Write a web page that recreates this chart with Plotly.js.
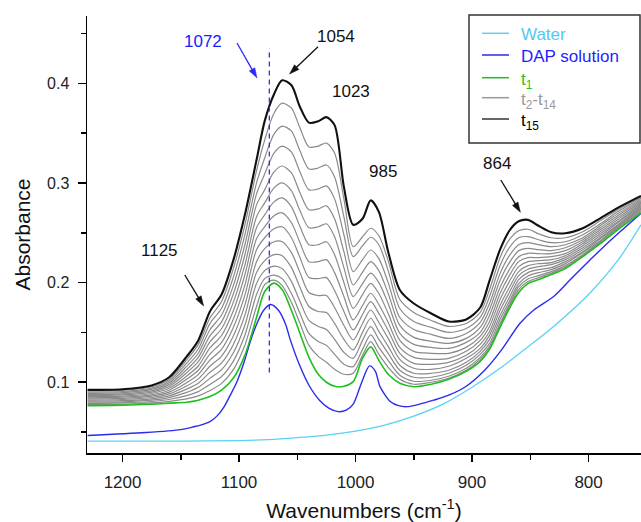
<!DOCTYPE html>
<html>
<head>
<meta charset="utf-8">
<script src="https://cdn.plot.ly/plotly-3.0.1.min.js"></script>
<style>
  html, body { margin: 0; padding: 0; background: #fff; }
  #chart { width: 641px; height: 522px; }
</style>
</head>
<body>
<div id="chart"></div>
<script>
// ---------- data ----------
const seriesNames = ["Water", "DAP solution", "t1", "t2-t14", "t15"];

const wnWater  = [1230, 1150, 1100, 1075, 1050, 1025, 1000, 975, 950, 925, 900, 876, 856, 830, 800, 775, 755];
const absWater = [0.041, 0.041, 0.0415, 0.0425, 0.0445, 0.047, 0.051, 0.057, 0.066, 0.078, 0.095, 0.114, 0.132, 0.156, 0.188, 0.222, 0.258];

const wnDAP  = [1230, 1180, 1150, 1140, 1133, 1125, 1119, 1113, 1108, 1102, 1096, 1090, 1085, 1079, 1073, 1066, 1060, 1056, 1048, 1040, 1031, 1023, 1015, 1008, 1002, 995, 988, 983, 979, 970, 963, 956, 945, 933, 920, 905, 889, 875, 859, 847, 830, 816, 802, 787, 773, 755];
const absDAP = [0.0465, 0.0495, 0.0525, 0.055, 0.057, 0.0605, 0.066, 0.075, 0.086, 0.100, 0.119, 0.142, 0.158, 0.172, 0.178, 0.172, 0.158, 0.1425, 0.117, 0.097, 0.082, 0.074, 0.0705, 0.072, 0.078, 0.099, 0.1164, 0.111, 0.0956, 0.0805, 0.0765, 0.0755, 0.078, 0.082, 0.087, 0.096, 0.1123, 0.132, 0.159, 0.1725, 0.186, 0.2026, 0.219, 0.236, 0.251, 0.2696];

const wnTime = [1230, 1200, 1175, 1160, 1145, 1135, 1125, 1115, 1105, 1095, 1085, 1078, 1070, 1063, 1055, 1048, 1040, 1032, 1025, 1018, 1010, 1002, 994, 987, 980, 972, 962, 950, 935, 920, 905, 893, 885, 876, 868, 860, 852, 843, 832, 820, 805, 790, 775, 755];

const t1  = [0.0765,0.077,0.078,0.079,0.080,0.082,0.0856,0.092,0.104,0.127, 0.165,0.191,0.1995,0.193,0.172, 0.150,0.125,0.108,0.100,0.096, 0.096,0.1006,0.124,0.1355,0.122, 0.108,0.099,0.0955,0.098,0.103, 0.111,0.121,0.133,0.155,0.174, 0.190,0.199,0.203,0.208,0.214, 0.226,0.239,0.253,0.270];
const t2  = [0.0776,0.0781,0.0793,0.0809,0.0833,0.0863,0.0917,0.0989,0.1124,0.1371, 0.176,0.198,0.2025,0.197,0.180, 0.160,0.137,0.126,0.120,0.113, 0.108,0.109,0.127,0.1407,0.128, 0.115,0.103,0.098,0.100,0.104, 0.112,0.123,0.134,0.157,0.176, 0.193,0.201,0.205,0.2095,0.2155, 0.227,0.240,0.254,0.2712];
const t3  = [0.0788,0.0793,0.0807,0.0827,0.0865,0.0906,0.0978,0.1057,0.1209,0.1471, 0.188,0.204,0.2075,0.204,0.189, 0.170,0.149,0.141,0.137,0.128, 0.118,0.1157,0.133,0.1475,0.135, 0.122,0.107,0.101,0.102,0.106, 0.114,0.125,0.136,0.159,0.178, 0.196,0.2036,0.207,0.211,0.217, 0.228,0.241,0.255,0.2724];
const t4  = [0.0799,0.0804,0.0820,0.0846,0.0898,0.0949,0.1039,0.1126,0.1293,0.1572, 0.199,0.212,0.2165,0.214,0.201, 0.182,0.162,0.156,0.153,0.143, 0.130,0.124,0.142,0.1558,0.143, 0.129,0.112,0.105,0.105,0.109, 0.117,0.128,0.139,0.163,0.181, 0.199,0.2067,0.210,0.213,0.219, 0.230,0.242,0.256,0.2736];
const t5  = [0.0810,0.0816,0.0834,0.0864,0.0931,0.0991,0.1100,0.1194,0.1377,0.1673, 0.210,0.222,0.228,0.227,0.215, 0.196,0.176,0.171,0.170,0.159, 0.143,0.1324,0.150,0.1642,0.151, 0.136,0.117,0.109,0.109,0.112, 0.120,0.131,0.143,0.167,0.185, 0.203,0.210,0.213,0.215,0.221, 0.231,0.244,0.257,0.2748];
const t6  = [0.0821,0.0827,0.0847,0.0883,0.0963,0.1034,0.1161,0.1263,0.1461,0.1774, 0.221,0.234,0.241,0.241,0.230, 0.211,0.190,0.187,0.187,0.175, 0.157,0.1424,0.159,0.1725,0.160, 0.144,0.123,0.114,0.113,0.116, 0.124,0.134,0.147,0.172,0.190, 0.207,0.2134,0.216,0.218,0.223, 0.233,0.245,0.258,0.2760];
const t7  = [0.0833,0.0839,0.0861,0.0901,0.0996,0.1077,0.1222,0.1331,0.1546,0.1874, 0.233,0.245,0.254,0.256,0.245, 0.226,0.205,0.204,0.205,0.192, 0.171,0.1525,0.168,0.1809,0.169, 0.152,0.129,0.119,0.118,0.120, 0.127,0.138,0.151,0.177,0.195, 0.211,0.217,0.219,0.220,0.225, 0.235,0.247,0.260,0.2772];
const t8  = [0.0844,0.0850,0.0874,0.0920,0.1029,0.1120,0.1283,0.1400,0.1630,0.1975, 0.244,0.256,0.267,0.270,0.260, 0.241,0.221,0.221,0.223,0.210, 0.186,0.1625,0.177,0.1893,0.178, 0.160,0.135,0.125,0.123,0.124, 0.131,0.142,0.156,0.183,0.201, 0.216,0.221,0.222,0.223,0.227, 0.237,0.249,0.261,0.2784];
const t9  = [0.0855,0.0861,0.0887,0.0939,0.1061,0.1163,0.1344,0.1469,0.1714,0.2076, 0.255,0.268,0.281,0.285,0.276, 0.257,0.238,0.238,0.241,0.228, 0.200,0.1742,0.188,0.1993,0.189, 0.169,0.142,0.131,0.129,0.129, 0.135,0.146,0.161,0.189,0.207, 0.221,0.225,0.225,0.226,0.229, 0.239,0.251,0.263,0.2796];
const t10 = [0.0866,0.0873,0.0901,0.0957,0.1094,0.1206,0.1405,0.1537,0.1799,0.2176, 0.266,0.280,0.295,0.300,0.292, 0.273,0.255,0.256,0.259,0.246, 0.215,0.186,0.199,0.2094,0.200, 0.179,0.149,0.138,0.135,0.134, 0.140,0.150,0.167,0.195,0.213, 0.226,0.2294,0.229,0.229,0.232, 0.241,0.253,0.265,0.2808];
const t11 = [0.0878,0.0884,0.0914,0.0976,0.1126,0.1249,0.1466,0.1606,0.1883,0.2277, 0.278,0.293,0.311,0.317,0.310, 0.291,0.273,0.274,0.277,0.264, 0.231,0.1976,0.2105,0.221,0.212, 0.189,0.157,0.145,0.141,0.139, 0.144,0.155,0.173,0.202,0.220, 0.232,0.2344,0.233,0.232,0.235, 0.243,0.255,0.267,0.2820];
const t12 = [0.0889,0.0896,0.0928,0.0994,0.1159,0.1291,0.1527,0.1674,0.1967,0.2377, 0.289,0.309,0.330,0.337,0.331, 0.312,0.293,0.294,0.297,0.284, 0.248,0.211,0.223,0.2327,0.224, 0.200,0.165,0.153,0.148,0.144, 0.149,0.160,0.179,0.209,0.227, 0.238,0.2401,0.238,0.236,0.238, 0.245,0.257,0.269,0.2832];
const t13 = [0.0900,0.0907,0.0941,0.1013,0.1192,0.1334,0.1588,0.1743,0.2051,0.2479, 0.300,0.325,0.349,0.357,0.352, 0.333,0.314,0.315,0.318,0.306, 0.266,0.226,0.237,0.2455,0.238, 0.212,0.174,0.161,0.155,0.150, 0.154,0.165,0.186,0.217,0.235, 0.245,0.2461,0.243,0.240,0.241, 0.248,0.259,0.271,0.2845];
const t14 = [0.0912,0.0919,0.0955,0.1031,0.1224,0.1377,0.1645,0.1811,0.2136,0.2579, 0.312,0.343,0.370,0.380,0.375, 0.356,0.336,0.337,0.340,0.330, 0.284,0.236,0.246,0.2545,0.247, 0.222,0.183,0.170,0.162,0.156, 0.159,0.170,0.193,0.225,0.243, 0.252,0.2535,0.249,0.245,0.245, 0.251,0.262,0.273,0.2858];
const t15 = [0.0923,0.093,0.0968,0.105,0.1257,0.142,0.171,0.188,0.222,0.268, 0.323,0.362,0.389,0.403,0.398, 0.377,0.3605,0.362,0.366,0.358, 0.296,0.258,0.264,0.2825,0.271, 0.231,0.1926,0.179,0.169,0.161, 0.163,0.175,0.202,0.233,0.252, 0.2615,0.2629,0.257,0.2505,0.2495, 0.2545,0.2645,0.275,0.287];

const grayRuns = [t2, t3, t4, t5, t6, t7, t8, t9, t10, t11, t12, t13, t14];

// ---------- styling ----------
const C_WATER = '#5ad2f2', C_DAP = '#2b2bf0', C_T1 = '#1fbf1f', C_GRAY = '#8a8a8a', C_T15 = '#111111';
const FONT = 'Arial, "Liberation Sans", Helvetica, sans-serif';
const spline = {shape: 'spline', smoothing: 0.8};

const W = 641, H = 522, ML = 87, MR = 0, MT = 16, MB = 69;
const PW = W - ML - MR, PH = H - MT - MB;
const px2paperX = px => (px - ML) / PW;
const px2paperY = py => (H - MB - py) / PH;

const traces = [];
traces.push({x: wnWater, y: absWater, name: seriesNames[0], mode: 'lines',
  line: Object.assign({color: C_WATER, width: 1.3}, spline)});
traces.push({x: wnDAP, y: absDAP, name: seriesNames[1], mode: 'lines',
  line: Object.assign({color: C_DAP, width: 1.4}, spline)});
grayRuns.forEach((arr, i) => {
  traces.push({x: wnTime, y: arr, name: 't' + (i + 2), mode: 'lines',
    line: Object.assign({color: C_GRAY, width: 1.2}, spline)});
});
traces.push({x: wnTime, y: t1, name: seriesNames[2], mode: 'lines',
  line: Object.assign({color: C_T1, width: 1.6}, spline)});
traces.push({x: wnTime, y: t15, name: seriesNames[4], mode: 'lines',
  line: Object.assign({color: C_T15, width: 2.1}, spline)});

// legend (drawn manually)
const legPy = [33.3, 55, 77.7, 97.7, 119];
const legColors = [C_WATER, C_DAP, C_T1, '#999999', '#333333'];
const legTextColors = ['#55c8ee', '#1f1fff', '#22c322', '#999999', '#000000'];
const legTexts = ['Water', 'DAP solution', 't<sub>1</sub>', 't<sub>2</sub>-t<sub>14</sub>', 't<sub>15</sub>'];

const shapes = [
  {type: 'line', xref: 'x', yref: 'y', x0: 1074, x1: 1074, y0: 0.1097, y1: 0.4351,
   line: {color: '#2f2fff', width: 1.3, dash: '5px,4px'}},
  {type: 'rect', xref: 'paper', yref: 'paper', x0: px2paperX(469), x1: px2paperX(640), y0: px2paperY(143), y1: px2paperY(15),
   line: {color: '#333333', width: 1.5}, fillcolor: 'rgba(0,0,0,0)'}
];
legPy.forEach((py, i) => {
  const y = px2paperY(py);
  shapes.push({type: 'line', xref: 'paper', yref: 'paper', x0: px2paperX(482), x1: px2paperX(509), y0: y, y1: y,
    line: {color: legColors[i], width: 1.5}});
});

// arrows drawn as a line + filled head (pixel positions of tail and head)
function arrow(tx, ty, hx, hy, color) {
  const dx = hx - tx, dy = hy - ty, len = Math.hypot(dx, dy);
  const ux = dx / len, uy = dy / len, nx = -uy, ny = ux;
  const L = 10, w = 3.2;
  const bx = hx - ux * L, by = hy - uy * L;
  shapes.push({type: 'line', xref: 'paper', yref: 'paper',
    x0: px2paperX(tx), y0: px2paperY(ty), x1: px2paperX(bx + ux * 2), y1: px2paperY(by + uy * 2),
    line: {color: color, width: 1.3}});
  const p = [[hx, hy], [bx + nx * w, by + ny * w], [bx - nx * w, by - ny * w]]
    .map(q => px2paperX(q[0]).toFixed(5) + ',' + px2paperY(q[1]).toFixed(5));
  shapes.push({type: 'path', xref: 'paper', yref: 'paper',
    path: 'M' + p[0] + 'L' + p[1] + 'L' + p[2] + 'Z',
    fillcolor: color, line: {color: color, width: 0.5}});
}
arrow(237, 43, 257, 78, '#2a2aff');
arrow(318, 46.7, 289.5, 74, '#111111');
arrow(500.8, 180, 520.4, 212.3, '#111111');
arrow(184.8, 275, 203.6, 306, '#111111');

const annotations = [
  {xref: 'x', yref: 'y', x: 1130.6, y: 0.4424, text: '1072', showarrow: false, font: {size: 17, color: '#2020ff'}},
  {xref: 'x', yref: 'y', x: 1016.9, y: 0.4465, text: '1054', showarrow: false, font: {size: 17, color: '#111'}},
  {xref: 'x', yref: 'y', x: 1004, y: 0.3913, text: '1023', showarrow: false, font: {size: 17, color: '#111'}},
  {xref: 'x', yref: 'y', x: 976.5, y: 0.311, text: '985', showarrow: false, font: {size: 17, color: '#111'}},
  {xref: 'x', yref: 'y', x: 878.7, y: 0.320, text: '864', showarrow: false, font: {size: 17, color: '#111'}},
  {xref: 'x', yref: 'y', x: 1167.9, y: 0.2317, text: '1125', showarrow: false, font: {size: 17, color: '#111'}}
];
legTexts.forEach((t, i) => {
  annotations.push({xref: 'paper', yref: 'paper', x: px2paperX(519),
    y: px2paperY(legPy[i] + (i >= 2 ? 3 : 1)),
    xanchor: 'left', yanchor: 'middle', text: t, showarrow: false,
    font: {size: 17, color: legTextColors[i]}});
});

const layout = {
  width: W, height: H,
  margin: {l: ML, r: MR, t: MT, b: MB, pad: 0},
  paper_bgcolor: '#ffffff', plot_bgcolor: '#ffffff',
  showlegend: false,
  font: {family: FONT, color: '#222'},
  xaxis: {
    range: [1230.5, 755], tick0: 0, dtick: 100,
    ticks: 'outside', ticklen: 7, tickwidth: 1.5, tickcolor: '#000',
    showline: true, linecolor: '#000', linewidth: 1.5,
    showgrid: false, zeroline: false,
    tickfont: {size: 17, color: '#222', family: FONT},
    ticklabelstandoff: 6,
    minor: {dtick: 50, ticks: 'outside', ticklen: 5, tickwidth: 1.5, tickcolor: '#000', showgrid: false},
    title: {text: 'Wavenumbers (cm<sup>-1</sup>)', font: {size: 21, color: '#111', family: FONT}, standoff: 12}
  },
  yaxis: {
    range: [0.029, 0.4675], tick0: 0, dtick: 0.1,
    ticks: 'outside', ticklen: 8, tickwidth: 1.5, tickcolor: '#000',
    showline: true, linecolor: '#000', linewidth: 1.5,
    showgrid: false, zeroline: false,
    tickfont: {size: 16, color: '#222', family: FONT},
    ticklabelstandoff: 5,
    minor: {dtick: 0.05, ticks: 'outside', ticklen: 5, tickwidth: 1.5, tickcolor: '#000', showgrid: false},
    title: {text: 'Absorbance', font: {size: 21, color: '#111', family: FONT}, standoff: 10}
  },
  shapes: shapes,
  annotations: annotations
};

Plotly.newPlot('chart', traces, layout, {displayModeBar: false, staticPlot: true});
</script>
</body>
</html>
